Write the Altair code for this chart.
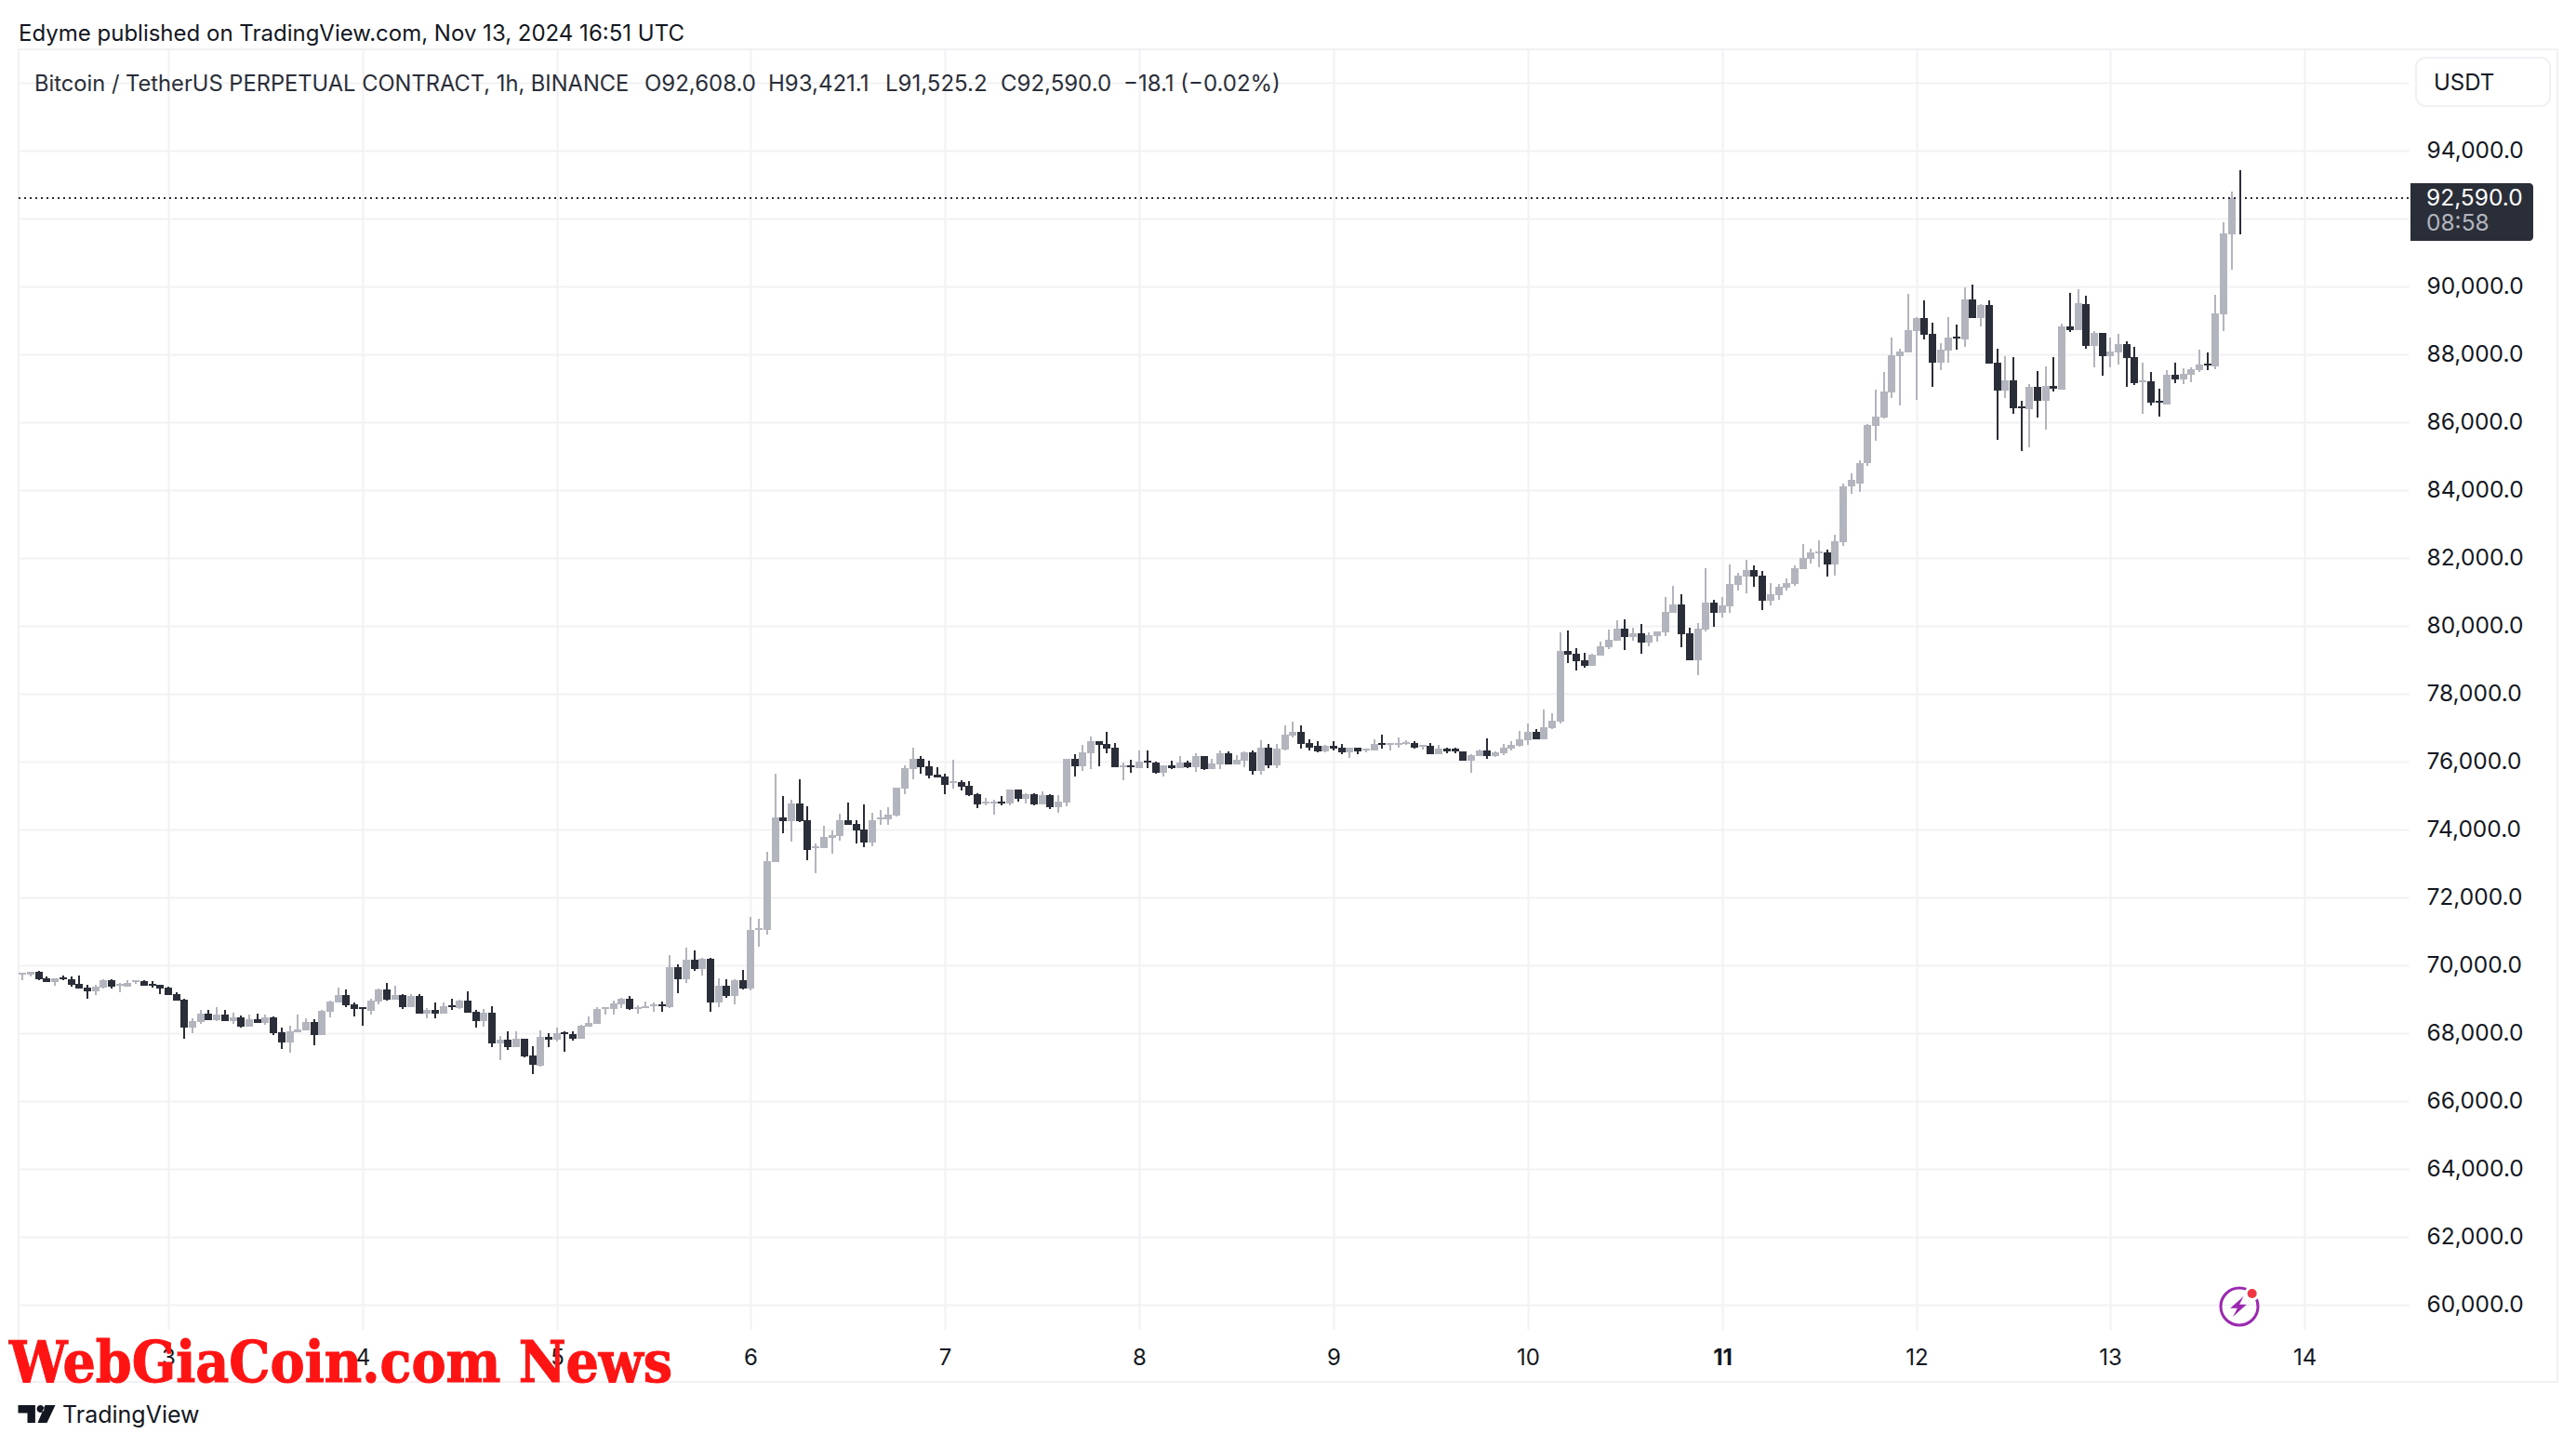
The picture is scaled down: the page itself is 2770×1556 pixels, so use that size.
import altair as alt
import pandas as pd

# (open, high, low, close) per hourly candle, one list per UTC day, November 2024
nov02 = [(69730,69780,69560,69780),(69730,69810,69670,69810),(69810,69840,69560,69590),(69620,69670,69510,69510),(69510,69620,69400,69620),(69640,69700,69560,69590),
 (69590,69670,69370,69430),(69450,69700,69320,69320),(69340,69430,69010,69230),(69230,69430,69120,69370),(69340,69590,69320,69560),(69560,69590,69320,69370),
 (69400,69480,69210,69450),(69370,69560,69370,69480),(69510,69560,69450,69560),(69530,69560,69400,69400),(69450,69530,69340,69400),(69430,69430,69150,69320)]
nov03 = [(69340,69370,69120,69120),(69150,69210,68960,68960),(68990,69010,67840,68170),(68170,68440,68000,68360),(68330,68690,68270,68580),(68580,68690,68380,68380),
 (68380,68770,68360,68550),(68550,68690,68360,68360),(68360,68600,68270,68470),(68470,68520,68170,68190),(68190,68550,68190,68410),(68410,68580,68300,68300),
 (68300,68550,68250,68470),(68470,68490,67950,68000),(68030,68170,67540,67730),(67730,68220,67430,68060),(68030,68550,68030,68110),(68080,68440,68080,68330),
 (68330,68410,67640,67950),(67950,68690,67950,68660),(68630,68960,68470,68930),(68900,69340,68900,69120),(69120,69290,68770,68820),(68850,68900,68490,68710)]
nov04 = [(68770,68770,68220,68710),(68660,69010,68550,68960),(68930,69320,68850,69290),(69290,69480,68960,68990),(68990,69400,68990,69120),(69120,69150,68710,68770),
 (68770,69150,68770,69100),(69100,69150,68580,68580),(68580,68740,68440,68690),(68690,68900,68440,68580),(68580,68900,68580,68800),(68820,69010,68690,68770),
 (68740,68990,68710,68960),(68960,69230,68600,68600),(68630,68690,68170,68360),(68360,68710,68190,68600),(68600,68800,67590,67700),(67700,67920,67210,67810),
 (67810,68060,67510,67590),(67590,68060,67590,67840),(67840,67840,67290,67320),(67340,67620,66800,67070),(67040,68080,67020,67890),(67890,68000,67590,67810)]
nov05 = [(67810,68170,67750,68000),(68030,68060,67450,67970),(67970,68060,67780,67840),(67840,68250,67840,68220),(68190,68490,68190,68300),(68280,68770,68280,68710),
 (68710,68770,68550,68770),(68710,68960,68550,68880),(68850,69040,68740,69010),(69010,69100,68690,68710),(68710,68820,68580,68770),(68740,68930,68740,68800),
 (68800,68900,68630,68850),(68850,68930,68630,68800),(68770,70300,68740,69950),(69950,70030,69180,69590),(69590,70520,69480,70170),(70170,70440,69840,69890),
 (69890,70220,69700,70190),(70190,70220,68630,68900),(68900,69620,68770,69400),(69400,69590,69040,69100),(69100,69590,68850,69560),(69560,69860,69290,69320)]
nov06 = [(69320,71430,69260,71040),(71040,71370,70550,71100),(71040,73340,70910,73070),(73040,75640,73040,74360),(74360,74990,73890,74250),(74250,74880,73640,74770),
 (74770,75480,74220,74250),(74270,74690,73100,73400),(73450,73590,72710,73510),(73450,74110,73450,73780),(73750,73970,73290,73840),(73810,74470,73670,74270),
 (74270,74800,74140,74140),(74170,74270,73590,73970),(74000,74740,73480,73620),(73620,74490,73510,74270),(74300,74580,74140,74360),(74300,74660,74140,74440),
 (74410,75230,74380,75230),(75210,75890,75040,75810),(75780,76410,75480,76080),(76080,76160,75640,75840),(75860,76030,75510,75590),(75620,75840,75530,75530)]
nov07 = [(75560,75640,75040,75320),(75370,76060,75210,75430),(75400,75450,75150,75260),(75290,75430,74990,75010),(75040,75070,74630,74740),(74770,74930,74710,74820),
 (74770,74880,74440,74820),(74820,74990,74710,74770),(74770,75180,74710,75180),(75180,75180,74820,74900),(74900,75070,74770,75040),(75040,75070,74710,74740),
 (74740,75120,74740,75010),(75010,75040,74600,74660),(74660,75010,74490,74820),(74800,76080,74680,76080),(76080,76220,75560,75860),(75860,76490,75730,76270),
 (76250,76740,75780,76600),(76600,76600,75860,76490),(76520,76880,76250,76380),(76410,76550,75840,75840),(75840,75970,75450,75890),(75890,76060,75670,75840)]
nov08 = [(75810,76330,75810,76000),(76030,76330,75810,75970),(75970,76000,75640,75670),(75670,75890,75560,75890),(75890,76030,75780,75810),(75810,76160,75810,75970),
 (75970,76030,75810,75840),(75840,76250,75700,76160),(76160,76160,75750,75780),(75780,76080,75780,75950),(75920,76330,75780,76250),(76250,76300,75920,75920),
 (75920,76190,75920,76060),(76030,76300,75840,76270),(76270,76330,75620,75730),(75730,76630,75620,76410),(76410,76520,75810,75890),(75890,76520,75810,76380),
 (76360,77070,76330,76790),(76770,77180,76710,76880),(76880,77070,76380,76520),(76550,76660,76330,76410),(76470,76600,76270,76300),(76300,76490,76270,76470)]
nov09 = [(76470,76600,76330,76380),(76410,76520,76220,76270),(76270,76410,76110,76410),(76410,76410,76220,76300),(76330,76380,76270,76380),(76330,76660,76330,76520),
 (76550,76790,76380,76490),(76490,76550,76330,76550),(76490,76710,76410,76550),(76520,76630,76490,76580),(76550,76600,76380,76410),(76440,76490,76360,76490),
 (76470,76550,76220,76220),(76220,76490,76220,76380),(76380,76410,76250,76300),(76380,76410,76250,76300),(76300,76300,76030,76030),(76030,76220,75670,76190),
 (76160,76360,76160,76330),(76330,76690,76080,76160),(76160,76300,76140,76270),(76250,76520,76190,76410),(76380,76600,76330,76490),(76470,76900,76440,76660)]
nov10 = [(76630,77120,76490,76880),(76880,76960,76660,76660),(76660,77530,76660,77010),(76990,77420,76960,77210),(77180,79810,77120,79260),(79260,79860,78900,79150),
 (79180,79340,78680,78960),(78990,79210,78770,78820),(78820,79180,78820,79150),(79120,79530,79120,79400),(79370,79890,79310,79590),(79560,80160,79560,79920),
 (79920,80190,79290,79670),(79670,79940,79560,79780),(79780,80050,79180,79510),(79510,79810,79400,79730),(79700,79840,79530,79840),(79810,80850,79700,80410),
 (80380,81180,80380,80630),(80630,80930,79370,79750),(79780,79940,78990,78990),(78990,80080,78550,79920),(79890,81700,79840,80680),(80680,80770,79970,80380)]
nov11 = [(80380,80850,80250,80600),(80570,81810,80380,81230),(81200,81560,81040,81480),(81450,81940,80960,81640),(81640,81780,81150,81450),(81480,81620,80470,80740),
 (80740,81260,80600,80930),(80900,81230,80770,81150),(81120,81400,81040,81260),(81230,81780,81180,81700),(81670,82410,81670,82000),(81970,82270,81830,82160),
 (82140,82520,81720,82190),(82160,82250,81450,81810),(81810,82680,81480,82490),(82460,84200,82360,84100),(84100,84500,83900,84300),(84200,84880,83950,84800),
 (84800,85950,84700,85920),(85890,86960,85450,86170),(86140,87480,86110,86910),(86880,88490,86710,87970),(87950,88170,86490,88080),(88060,89780,88060,88710)]
nov12 = [(88690,89100,86660,89070),(89070,89590,88440,88580),(88600,88930,87040,87750),(87750,88330,87540,88140),(88110,89100,87750,88490),(88520,88880,88140,88470),
 (88440,89970,88220,89620),(89620,90060,89070,89070),(89070,89480,88820,89450),(89450,89590,87730,87730),(87750,88170,85480,86930),(86930,87950,86710,87230),
 (87230,87920,86250,86410),(86470,86630,85150,86410),(86390,87120,85260,87040),(87040,87510,86140,86630),(86630,87650,85780,87070),(87070,87920,86910,86990),
 (86960,88910,86960,88820),(88820,89810,88660,88710),(88710,89920,88710,89510),(89480,89730,88170,88250),(88250,88690,87620,88630),(88630,88630,87370,87950)]
nov13 = [(87950,88490,87620,88080),(88060,88600,87700,88300),(88300,88380,87040,87890),(87920,88220,87100,87150),(87180,87750,86250,87230),(87210,87480,86490,86580),
 (86630,86990,86170,86580),(86520,87540,86520,87400),(87400,87750,87150,87260),(87260,87590,87120,87430),(87400,87620,87180,87560),(87540,88140,87480,87700),
 (87730,88060,87540,87670),(87650,89750,87560,89210),(89180,91890,88690,91560),(91530,92790,90490,92600),(92608,93421,91525,92590)]

first_hour = -18  # hours relative to Nov 3 00:00 UTC
price_ticks = list(range(60000, 98000, 2000))
day_ticks = list(range(0, 276, 24))
last_price = 92590

published = "Edyme published on TradingView.com, Nov 13, 2024 16:51 UTC"
symbol = "Bitcoin / TetherUS PERPETUAL CONTRACT, 1h, BINANCE"
ohlc_texts = [("O92,608.0", 693), ("H93,421.1", 826), ("L91,525.2", 952), ("C92,590.0", 1076), ("−18.1 (−0.02%)", 1208)]

UP, DOWN = "#b2b5be", "#2a2e39"
INK, GRID, FRAME = "#131722", "#f2f2f5", "#f0f0f5"
FONT = "Inter"
OX, OY = 20, 53   # page position of the plot area
PW, PH = 2570, 1377

rows = nov02 + nov03 + nov04 + nov05 + nov06 + nov07 + nov08 + nov09 + nov10 + nov11 + nov12 + nov13
df = pd.DataFrame(rows, columns=["open", "high", "low", "close"])
df["hour"] = range(first_hour, first_hour + len(df))
df["color"] = [UP if c >= o else DOWN for o, c in zip(df["open"], df["close"])]

xscale = alt.Scale(domain=[-18.5, 276.85], nice=False, zero=False, round=True, padding=0)
yscale = alt.Scale(domain=[59252, 96987], nice=False, zero=False, round=True, padding=0)

xaxis = alt.Axis(values=day_ticks, title=None, grid=True, gridColor=GRID, gridWidth=2, domain=False, ticks=False,
                 labelExpr="'' + (3 + datum.value / 24)", labelFont=FONT, labelFontSize=24, labelColor=INK,
                 labelPadding=18, labelFlush=False,
                 labelFontWeight={"condition": {"test": "datum.value == 192", "value": "bold"}, "value": "normal"})
yaxis = alt.Axis(values=price_ticks, orient="right", title=None, grid=True, gridColor=GRID, gridWidth=2, domain=False, ticks=False,
                 labelExpr="datum.value > 95000 || datum.value == 92000 ? '' : format(datum.value, ',.1f')",
                 labelFont=FONT, labelFontSize=24.5, labelColor=INK, labelAlign="left", labelPadding=19, labelFlush=False)

wicks = alt.Chart(df).mark_rule(strokeWidth=2).encode(
    x=alt.X("hour:Q", scale=xscale, axis=xaxis),
    y=alt.Y("low:Q", scale=yscale, axis=yaxis),
    y2="high:Q",
    color=alt.Color("color:N", scale=None),
)
bodies = alt.Chart(df).mark_bar(size=8, orient="vertical").encode(
    x=alt.X("hour:Q", scale=xscale, axis=xaxis),
    y=alt.Y("open:Q", scale=yscale, axis=yaxis),
    y2="close:Q",
    color=alt.Color("color:N", scale=None),
)
price_line = alt.Chart(pd.DataFrame({"price": [last_price]})).mark_rule(
    strokeWidth=2, strokeDash=[2, 4], color=DOWN
).encode(y=alt.Y("price:Q", scale=yscale, axis=yaxis))

one = pd.DataFrame({"k": [0]})


def text(s, px, py, size=24, color=INK, **kw):
    kw.setdefault("align", "left")
    kw.setdefault("baseline", "middle")
    kw.setdefault("font", FONT)
    return alt.Chart(one).mark_text(text=s, fontSize=size, color=color, **kw).encode(
        x=alt.value(px - OX), y=alt.value(py - OY))


def box(x0, y0, x1, y1, **kw):
    return alt.Chart(one).mark_rect(**kw).encode(
        x=alt.value(x0 - OX), x2=alt.value(x1 - OX), y=alt.value(y0 - OY), y2=alt.value(y1 - OY))


def glyph(shape, px, py, size, **kw):
    return alt.Chart(one).mark_point(shape=shape, size=size, **kw).encode(
        x=alt.value(px - OX), y=alt.value(py - OY))


frame = box(20, 53, 2750, 1486, filled=False, stroke=FRAME, strokeWidth=2)
usdt_box = box(2598, 62, 2742, 114, fill="#ffffff", stroke=FRAME, strokeWidth=2, cornerRadius=10)
tag_box = box(2592, 197, 2724, 259, fill=DOWN, cornerRadiusTopRight=4, cornerRadiusBottomRight=4)

logo_path = "M-1 -.475 H-.08 V.475 H-.5 V-.05 H-1 Z M0 -.27 a.2 .2 0 1 0 .4 0 a.2 .2 0 1 0 -.4 0 Z M.45 -.475 H1 L.55 .475 H.05 Z"
bolt_path = "M.5 -1 L-.8 .15 H-.1 L-.55 1 L.8 -.2 H.1 Z"

layers = [
    frame, wicks, bodies, price_line,
    usdt_box, tag_box,
    text(published, 20, 37, size=24),
    text(symbol, 37, 91, size=23.7, color=DOWN),
] + [text(s, x, 91, size=24, color=DOWN) for s, x in ohlc_texts] + [
    text("USDT", 2617, 90),
    text("92,590.0", 2609, 214, size=24.5, color="#ffffff"),
    text("08:58", 2609, 241, size=24.5, color="#b2b5be"),
    glyph("circle", 2408, 1405, 1600, filled=False, stroke="#9c27b0", strokeWidth=3, opacity=1),
    glyph("circle", 2421.7, 1391, 256, filled=True, color="#ffffff", opacity=1),
    glyph("circle", 2421.7, 1391, 100, filled=True, color="#f23645", opacity=1),
    glyph(bolt_path, 2407, 1405, 484, filled=True, color="#9c27b0", opacity=1, strokeWidth=0),
    text("WebGiaCoin.com News", 10, 1486, size=61.8, color="#ff1414", font="DejaVu Serif Condensed",
         fontWeight="bold", baseline="alphabetic", stroke="#ff1414", strokeWidth=1),
    glyph(logo_path, 39.5, 1520.5, 1600, filled=True, color=INK, opacity=1, strokeWidth=0),
    text("TradingView", 67, 1522, size=25),
]

chart = alt.layer(*layers).resolve_scale(color="independent").properties(
    width=PW, height=PH,
    autosize=alt.AutoSizeParams(type="none"),
    padding={"left": OX - 8, "top": OY - 8, "right": 165, "bottom": 110},
    background="#ffffff",
).configure_view(stroke=None)

chart.save("out.html", embed_options={"renderer": "svg", "actions": False})
